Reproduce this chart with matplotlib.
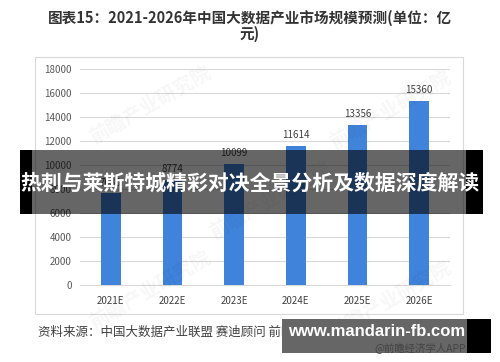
import matplotlib
matplotlib.use("Agg")
import matplotlib.pyplot as plt
from matplotlib.patches import Rectangle

plt.rcParams['font.family'] = ['Noto Sans CJK SC', 'DejaVu Sans']

categories = ["2021E", "2022E", "2023E", "2024E", "2025E", "2026E"]
values = [7630, 8774, 10099, 11614, 13356, 15360]
yticks = [0, 2000, 4000, 6000, 8000, 10000, 12000, 14000, 16000, 18000]

title = "图表15：2021-2026年中国大数据产业市场规模预测(单位：亿\n元)"
source = "资料来源：中国大数据产业联盟 赛迪顾问 前瞻产业研究院整理"
banner = "热刺与莱斯特城精彩对决全景分析及数据深度解读"
site = "www.mandarin-fb.com"
app = "@前瞻经济学人APP"

W, H = 500, 362
fig = plt.figure(figsize=(5, 3.62), dpi=100)
fig.patch.set_facecolor("white")

def fx(x): return x / W
def fy(y): return 1 - y / H

# frame box
fig.patches.append(Rectangle((fx(35), fy(314)), fx(463) - fx(35), fy(57) - fy(314),
                             transform=fig.transFigure, fill=False, edgecolor="#d9d9d9", lw=0.8))

ax = fig.add_axes([fx(80), fy(285), fx(450) - fx(80), fy(69) - fy(285)])
x = list(range(len(categories)))
ax.bar(x, values, width=0.32, color="#3f83db", zorder=3)
for xi, v in zip(x, values):
    ax.text(xi, v + 450, str(v), ha="center", va="bottom", fontsize=7, color="#404040")
ax.set_ylim(0, 18000)
ax.set_xlim(-0.5, 5.5)
ax.set_yticks(yticks)
ax.set_yticklabels([str(t) for t in yticks], fontsize=7, color="#595959")
ax.set_xticks(x)
ax.set_xticklabels(categories, fontsize=7, color="#404040")
ax.grid(axis="y", color="#d9d9d9", lw=0.8, zorder=0)
for s in ["top", "right", "left"]:
    ax.spines[s].set_visible(False)
ax.spines["bottom"].set_color("#d9d9d9")
ax.tick_params(axis="both", length=0, pad=6)
ax.tick_params(axis="x", pad=8)

# title
fig.text(0.5, fy(26), title, ha="center", va="center", fontsize=10.5, fontweight="bold",
         color="#333333", linespacing=1.0)

# source
fig.text(fx(38), fy(332), source, ha="left", va="center", fontsize=9, color="#404040")

# faint watermarks
for (wx, wy) in [(150, 105), (390, 110), (150, 290), (390, 300), (270, 200)]:
    fig.text(fx(wx), fy(wy), "前瞻产业研究院", ha="center", va="center", fontsize=14,
             color="#000000", alpha=0.035, rotation=30, fontweight="bold")

# banner overlay
fig.patches.append(Rectangle((fx(20), fy(214)), fx(483) - fx(20), fy(150) - fy(214),
                             transform=fig.transFigure, facecolor="black", alpha=0.6,
                             edgecolor="none", zorder=10))
fig.patches.append(Rectangle((fx(20), fy(214)), fx(32) - fx(20), fy(150) - fy(214),
                             transform=fig.transFigure, facecolor="black", edgecolor="none", zorder=10))
fig.patches.append(Rectangle((fx(466), fy(214)), fx(483) - fx(466), fy(150) - fy(214),
                             transform=fig.transFigure, facecolor="black", edgecolor="none", zorder=10))
fig.text(0.5, fy(183), banner, ha="center", va="center", fontsize=15, fontweight="bold",
         color="white", zorder=11)

# site watermark
fig.patches.append(Rectangle((fx(282), fy(353)), fx(467) - fx(282), fy(319) - fy(353),
                             transform=fig.transFigure, facecolor="#666666",
                             edgecolor="none", zorder=10))
fig.patches.append(Rectangle((fx(467), fy(353)), fx(491) - fx(467), fy(319) - fy(353),
                             transform=fig.transFigure, facecolor="black",
                             edgecolor="none", zorder=10))
fig.text(fx(377), fy(332), site, ha="center", va="center", fontsize=12, fontweight="bold",
         color="white", zorder=11, family="Liberation Sans")
fig.text(fx(466), fy(348), app, ha="right", va="center", fontsize=7.5, color="#444444", zorder=12)

fig.savefig("out.png", dpi=100)
